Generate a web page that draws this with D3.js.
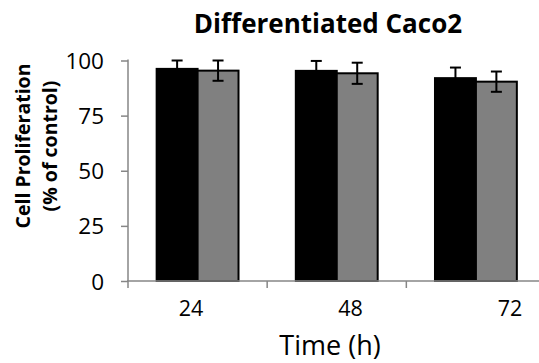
<!DOCTYPE html>
<html>
<head>
<meta charset="utf-8">
<script src="https://cdn.jsdelivr.net/npm/d3@7"></script>
<style>
  body { margin: 0; background: #fff; }
  text { font-family: "Open Sans", sans-serif; }
</style>
</head>
<body>
<svg id="drawing_region"></svg>
<script>
const times = ["24", "48", "72"];
const series = ["A", "B"];
const values_A = [96.2, 95.3, 92.0];
const values_B = [95.4, 94.2, 90.4];
const errors_A = [3.8, 4.5, 4.8];
const errors_B = [4.6, 4.8, 4.6];
const y_ticks = [0, 25, 50, 75, 100];
const colors = ["#000000", "#808080"];

const data = [];
times.forEach((t, i) => {
    data.push({time: t, series: "A", value: values_A[i], err: errors_A[i]});
    data.push({time: t, series: "B", value: values_B[i], err: errors_B[i]});
});

const width = 539, height = 363;
const svg = d3.select("#drawing_region")
    .attr("width", width)
    .attr("height", height);

// scales
const xscale = d3.scaleBand()
    .domain(times)
    .range([128, 545.5])
    .padding(0);

const xinner = d3.scaleBand()
    .domain(series)
    .range([0, xscale.bandwidth()])
    .paddingInner(0)
    .paddingOuter(0.7);

const xlabel_scale = d3.scalePoint()
    .domain(times)
    .range([191, 510]);

const yscale = d3.scaleLinear()
    .domain([0, 100])
    .range([281, 60.5]);

const color = d3.scaleOrdinal().domain(series).range(colors);

// y axis
const yaxis = d3.axisLeft(yscale)
    .tickValues(y_ticks)
    .tickSize(7)
    .tickSizeOuter(0)
    .tickPadding(17);

const yaxis_group = svg.append("g")
    .attr("transform", `translate(${xscale.range()[0]}, 0)`)
    .call(yaxis);
yaxis_group.select(".domain").attr("stroke", "#868686").attr("stroke-width", 1.5)
    .attr("d", `M0,${yscale(100) - 1}V${yscale(0)}`);
yaxis_group.selectAll(".tick line").attr("stroke", "#868686").attr("stroke-width", 1.5);
yaxis_group.selectAll(".tick text")
    .attr("font-size", "22.5px")
    .attr("fill", "#000")
    .attr("dy", "0.36em")
    .style("font-family", "'Open Sans', sans-serif");

// bars
const chart = svg.append("g");
chart.selectAll("rect.bar").data(data).enter()
    .append("rect")
    .attr("class", "bar")
    .attr("x", d => xscale(d.time) + xinner(d.series))
    .attr("y", d => yscale(d.value))
    .attr("width", xinner.bandwidth())
    .attr("height", d => yscale(0) - yscale(d.value))
    .attr("fill", d => color(d.series))
    .attr("stroke", "#000")
    .attr("stroke-width", 2);

// error bars
const err = chart.selectAll("g.err").data(data).enter()
    .append("g")
    .attr("class", "err")
    .attr("transform", d => `translate(${xscale(d.time) + xinner(d.series) + xinner.bandwidth() / 2}, 0)`)
    .attr("stroke", "#000")
    .attr("stroke-width", 2);
err.append("line")
    .attr("x1", 0).attr("x2", 0)
    .attr("y1", d => yscale(d.value + d.err))
    .attr("y2", d => yscale(d.value - d.err));
err.append("line")
    .attr("x1", -5.5).attr("x2", 5.5)
    .attr("y1", d => yscale(d.value + d.err))
    .attr("y2", d => yscale(d.value + d.err));
err.append("line")
    .attr("x1", -5.5).attr("x2", 5.5)
    .attr("y1", d => yscale(d.value - d.err))
    .attr("y2", d => yscale(d.value - d.err));

// x axis (line and boundary ticks)
const xaxis_group = svg.append("g");
xaxis_group.append("line")
    .attr("x1", xscale.range()[0] - 1)
    .attr("x2", width)
    .attr("y1", yscale(0))
    .attr("y2", yscale(0))
    .attr("stroke", "#868686")
    .attr("stroke-width", 1.5);
xaxis_group.selectAll("line.tick").data(times).enter()
    .append("line")
    .attr("class", "tick")
    .attr("x1", d => xscale(d))
    .attr("x2", d => xscale(d))
    .attr("y1", yscale(0))
    .attr("y2", yscale(0) + 7)
    .attr("stroke", "#868686")
    .attr("stroke-width", 1.5);
xaxis_group.selectAll("text").data(times).enter()
    .append("text")
    .attr("x", d => xlabel_scale(d))
    .attr("y", 316)
    .attr("text-anchor", "middle")
    .attr("font-size", "21.5px")
    .attr("fill", "#000")
    .text(d => d);

// title and axis labels
svg.append("text")
    .attr("x", 328)
    .attr("y", 33)
    .attr("text-anchor", "middle")
    .attr("font-size", "26px")
    .attr("font-weight", "bold")
    .text("Differentiated Caco2");

svg.append("text")
    .attr("x", 330)
    .attr("y", 355)
    .attr("text-anchor", "middle")
    .attr("font-size", "27px")
    .text("Time (h)");

const ylabel = svg.append("text")
    .attr("transform", "translate(0, 146) rotate(-90)")
    .attr("text-anchor", "middle")
    .attr("font-size", "19.5px")
    .attr("font-weight", "bold");
ylabel.append("tspan").attr("x", 0).attr("y", 30).text("Cell Proliferation");
ylabel.append("tspan").attr("x", 0).attr("y", 57).text("(% of control)");
</script>
</body>
</html>
